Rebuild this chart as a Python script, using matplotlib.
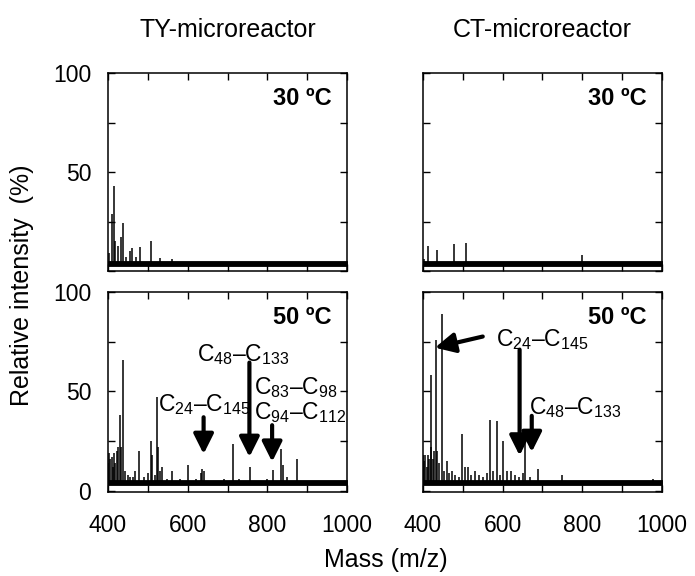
import matplotlib
matplotlib.use('Agg')
import matplotlib.pyplot as plt

plt.rcParams['font.family'] = ['Liberation Sans', 'DejaVu Sans']
plt.rcParams['mathtext.fontset'] = 'custom'
plt.rcParams['mathtext.rm'] = 'Liberation Sans'
plt.rcParams['mathtext.it'] = 'Liberation Sans:italic'
plt.rcParams['mathtext.bf'] = 'Liberation Sans:bold'

# ---------------- data ----------------
reactors = ['TY-microreactor', 'CT-microreactor']
temperatures = ['30 ºC', '50 ºC']

x_ticks = [400, 500, 600, 700, 800, 900, 1000]
x_tick_labels = ['400', '', '600', '', '800', '', '1000']
y_ticks = [0, 25, 50, 75, 100]
y_tick_labels_top = ['', '', '50', '', '100']
y_tick_labels_bottom = ['0', '', '50', '', '100']

# TY-microreactor, 30 C
ty30_mz = [403, 409, 414, 417, 426, 432, 437, 445, 454, 460, 470, 480, 507, 530, 560]
ty30_int = [9, 29, 43, 15, 12.5, 17, 24, 7, 10, 11.5, 7, 12, 15, 6.5, 6]

# CT-microreactor, 30 C
ct30_mz = [403, 413, 436, 479, 507, 799]
ct30_int = [6, 12.5, 10.5, 13.5, 14, 8]

# TY-microreactor, 50 C
ty50_mz = [401, 403, 406, 409, 412, 415, 418, 422, 425, 429,
           433, 438, 442, 450, 456, 462, 469, 479, 490, 500,
           507, 510, 517, 522, 525, 530, 536, 548, 561, 580,
           600, 620, 633, 636, 640, 660, 690, 713, 730, 757,
           780, 800, 815, 834, 840, 850, 874, 900, 937, 960]
ty50_int = [14, 19, 16, 17, 12, 19, 14, 20, 22, 38,
            22, 66, 10, 8, 7, 7, 10, 20, 7, 9,
            25, 18, 8, 47, 22, 10, 12, 6, 10, 6,
            13, 6, 9, 11, 10, 5, 6, 23.5, 6, 12,
            5, 6, 10.5, 21, 13, 7, 16, 5, 5, 4]

# CT-microreactor, 50 C
ct50_mz = [401, 403, 406, 409, 412, 415, 419, 421, 425, 428,
           432, 436, 440, 447, 452, 459, 465, 472, 480, 490,
           498, 505, 512, 520, 530, 540, 550, 560, 567, 575,
           587, 594, 600, 610, 620, 630, 640, 650, 657, 668,
           688, 710, 750, 800, 850, 900, 978]
ct50_int = [18, 15, 18, 12, 18, 16, 58, 22, 16, 20,
            76, 20, 14, 89, 10, 15, 9, 10, 8, 7,
            28.5, 12, 12, 8, 10, 8, 7, 9, 35.5, 10,
            35, 8, 25, 10, 10, 8, 7, 9, 25, 7,
            11, 5, 8, 5, 5, 4, 6]

spectra = {(0, 0): (ty30_mz, ty30_int), (0, 1): (ct30_mz, ct30_int),
           (1, 0): (ty50_mz, ty50_int), (1, 1): (ct50_mz, ct50_int)}

noise_band = (2.7, 5.2)

# annotations (bottom row): label, x, baseline y
ty50_labels = [('C$_{24}$–C$_{145}$', 526, 40),
               ('C$_{48}$–C$_{133}$', 623, 65),
               ('C$_{83}$–C$_{98}$', 767, 48.5),
               ('C$_{94}$–C$_{112}$', 767, 36)]
ty50_arrows = [((640, 37), (640, 18.5)),
               ((755, 64.5), (755, 17)),
               ((812, 33), (812, 14.6))]
ct50_labels = [('C$_{24}$–C$_{145}$', 584, 72.7),
               ('C$_{48}$–C$_{133}$', 667, 38.5)]
ct50_arrows = [((550, 77.6), (430, 72)),
               ((642.5, 71), (642.5, 17.7)),
               ((673, 37.7), (673, 19.5))]
labels_by_col = {0: (ty50_labels, ty50_arrows), 1: (ct50_labels, ct50_arrows)}

# ---------------- figure ----------------
W, H = 695, 576
fig = plt.figure(figsize=(W / 100, H / 100), dpi=100)

col_x = [108 / W, 423 / W]
col_w = 239 / W
row_y = [1 - 271 / H, 1 - 492 / H]
row_h = [198 / H, 200 / H]

TICK_FS = 16.5
for r in range(2):
    for c in range(2):
        ax = fig.add_axes([col_x[c], row_y[r], col_w, row_h[r]])
        mz, inten = spectra[(r, c)]
        ax.fill_between([400, 1000], noise_band[0], noise_band[1],
                        color='black', lw=0.6)
        ax.vlines(mz, noise_band[0], inten, color='black', lw=1.1)
        ax.set_xlim(400, 1000)
        ax.set_ylim(2.2 if r == 0 else -0.6, 100)
        ax.set_xticks(x_ticks)
        ax.set_yticks(y_ticks)
        if r == 1:
            ax.set_xticklabels(x_tick_labels)
        else:
            ax.set_xticklabels([''] * len(x_ticks))
        if c == 0:
            ax.set_yticklabels(y_tick_labels_top if r == 0 else y_tick_labels_bottom)
        else:
            ax.set_yticklabels([''] * len(y_ticks))
        ax.tick_params(direction='in', top=True, right=True, length=5,
                       width=1, labelsize=TICK_FS)
        ax.tick_params(axis='x', pad=16)
        ax.tick_params(axis='y', pad=12)
        for s in ax.spines.values():
            s.set_linewidth(1.1)
        ax.text(0.935, 0.87 if r == 0 else 0.875, temperatures[r],
                transform=ax.transAxes, ha='right', va='center',
                fontsize=17, fontweight='bold')
        if r == 1:
            labs, arrs = labels_by_col[c]
            for txt, x, y in labs:
                ax.text(x, y, txt, ha='left', va='baseline', fontsize=16.5)
            for start, tip in arrs:
                ax.annotate('', xy=tip, xytext=start,
                            arrowprops=dict(arrowstyle='-|>', mutation_scale=30,
                                            lw=3, color='black',
                                            shrinkA=0, shrinkB=0))

for c in range(2):
    fig.text(col_x[c] + col_w / 2, 1 - 30 / H, reactors[c],
             ha='center', va='center', fontsize=18)

fig.text(0.555, 1 - 560 / H, 'Mass (m/z)', ha='center', va='center', fontsize=18)
fig.text(22 / W, 1 - 285 / H, 'Relative intensity  (%)', ha='center', va='center',
         rotation=90, fontsize=18)

fig.savefig('out.png', dpi=100)
